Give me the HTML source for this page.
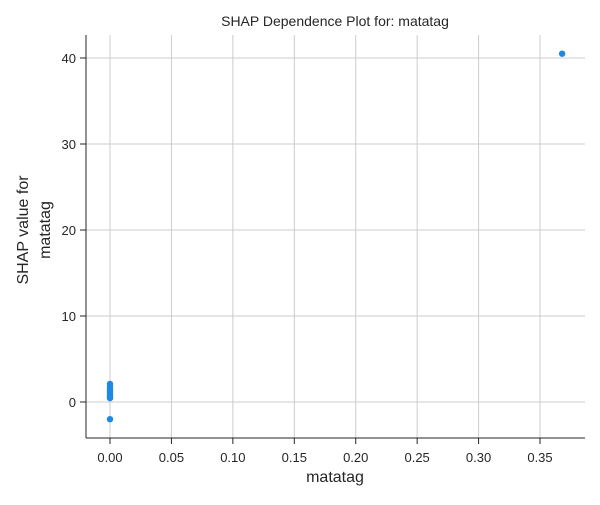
<!DOCTYPE html>
<html><head><meta charset="utf-8"><style>
body{margin:0;background:#fff;font-family:"Liberation Sans",sans-serif}
</style></head><body>
<svg width="600" height="500" id="chart" font-family="Liberation Sans, sans-serif">
<text x="335" y="26" text-anchor="middle" font-size="14" fill="#262626">SHAP Dependence Plot for: matatag</text>
<text x="335" y="482" text-anchor="middle" font-size="16" fill="#262626">matatag</text>
<text transform="translate(28,230) rotate(-90)" text-anchor="middle" font-size="16" fill="#262626"><tspan x="0" dy="0">SHAP value for</tspan><tspan x="0" dy="22">matatag</tspan></text>
<g id="grid"></g><g id="ticks"></g><g id="pts"></g>
<line x1="86" y1="35" x2="86" y2="438" stroke="#262626" stroke-width="1"/>
<line x1="86" y1="438" x2="585" y2="438" stroke="#262626" stroke-width="1"/>
</svg>
<script>
const xTicks=[0,0.05,0.1,0.15,0.2,0.25,0.3,0.35];
const xTickLabels=["0.00","0.05","0.10","0.15","0.20","0.25","0.30","0.35"];
const yTicks=[0,10,20,30,40];
const yTickLabels=["0","10","20","30","40"];
const featureValues=[0,0,0,0,0,0,0,0,0,0,0.368];
const shapValues=[2.1,1.8,1.5,1.3,1.1,0.9,0.7,0.55,0.45,-2.0,40.5];
const ns="http://www.w3.org/2000/svg";
function sx(v){return 110+v/0.05*61.43;}
function sy(v){return 402-v*8.6;}
function mk(t,a,p){const e=document.createElementNS(ns,t);for(const k in a)e.setAttribute(k,a[k]);p.appendChild(e);return e;}
const g=document.getElementById('grid'),tk=document.getElementById('ticks'),pts=document.getElementById('pts');
xTicks.forEach((v,i)=>{
 const l=mk('line',{x1:sx(v),x2:sx(v),y1:35,y2:438,stroke:'#cccccc'},g);
 
 
 const m=mk('line',{x1:sx(v),x2:sx(v),y1:438,y2:444,stroke:'#262626'},tk);
 
 
 const t=mk('text',{x:sx(v),y:462,'text-anchor':'middle','font-size':13,fill:'#262626'},tk);
 t.textContent=xTickLabels[i];
 
 
});
yTicks.forEach((v,i)=>{
 const l=mk('line',{x1:86,x2:585,y1:sy(v),y2:sy(v),stroke:'#cccccc'},g);
 
 
 const m=mk('line',{x1:80,x2:86,y1:sy(v),y2:sy(v),stroke:'#262626'},tk);
 
 
 const t=mk('text',{x:76,y:sy(v)+5,'text-anchor':'end','font-size':13,fill:'#262626'},tk);
 t.textContent=yTickLabels[i];
 
 
});
featureValues.forEach((v,i)=>{
 const c=mk('circle',{cx:sx(v),cy:sy(shapValues[i]),r:3.2,fill:'#1e88e5'},pts);
 
 
});
</script>
</body></html>
